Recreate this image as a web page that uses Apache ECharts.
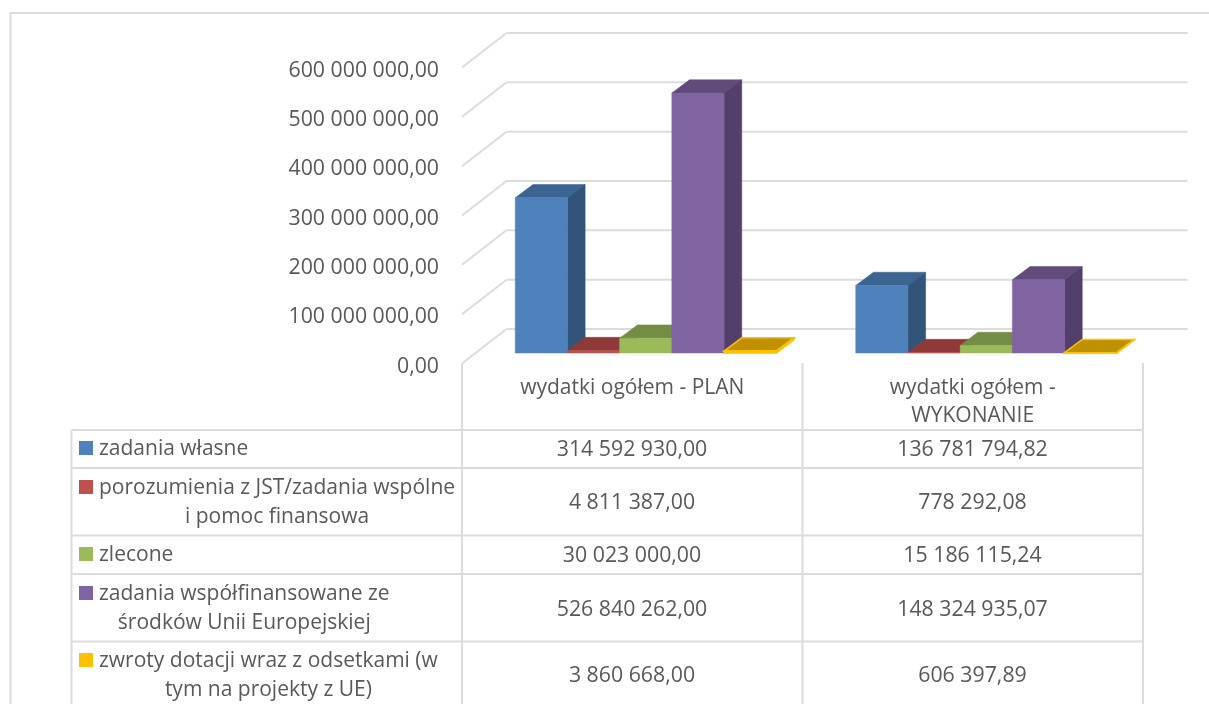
<!DOCTYPE html>
<html>
<head>
<meta charset="utf-8">
<title>wydatki ogółem</title>
<script src="https://cdn.jsdelivr.net/npm/echarts@6/dist/echarts.min.js"></script>
<style>
  html, body { margin: 0; padding: 0; background: #fff; }
  #chart { width: 1209px; height: 704px; }
</style>
</head>
<body>
<div id="chart"></div>
<script>
const categories = ['wydatki ogółem - PLAN', 'wydatki ogółem -\nWYKONANIE'];
const seriesNames = [
  'zadania własne',
  'porozumienia z JST/zadania wspólne\ni pomoc finansowa',
  'zlecone',
  'zadania współfinansowane ze\nśrodków Unii Europejskiej',
  'zwroty dotacji wraz z odsetkami (w\ntym na projekty z UE)'
];
const zadaniaWlasne = [314592930.00, 136781794.82];
const porozumienia = [4811387.00, 778292.08];
const zlecone = [30023000.00, 15186115.24];
const wspolfinansowane = [526840262.00, 148324935.07];
const zwroty = [3860668.00, 606397.89];
const yTicks = [0, 100000000, 200000000, 300000000, 400000000, 500000000, 600000000];

const seriesValues = [zadaniaWlasne, porozumienia, zlecone, wspolfinansowane, zwroty];
const faceColors = [
  { front: '#4F81BD', top: '#3C6491', side: '#325479' },
  { front: '#C0504D', top: '#8F3A38', side: '#7A302E' },
  { front: '#9BBB59', top: '#748C43', side: '#62773A' },
  { front: '#8064A2', top: '#604B7A', side: '#533F6B' },
  { front: '#FFC000', top: '#BF9000', side: '#A67D00' }
];

const FONT = '"Open Sans", sans-serif';
const FONT_SIZE = 21;
const NUM_SIZE = 21.3;
const TEXT = '#595959';
const LINE = '#DCDCDC';

// uklad "3D": przesuniecie sciany tylnej i slupkow wzgledem plaszczyzny osi
const WALL_DX = 44.5, WALL_DY = 34.5;
const BAR_DX = 13.5, BAR_DY = 10.5;
const DEPTH_DX = 17.7, DEPTH_DY = 13.3;
const BAR_SHARE = 0.1533;

function plNumber(v) {
  const parts = v.toFixed(2).split('.');
  return parts[0].replace(/\B(?=(\d{3})+$)/g, ' ') + ',' + parts[1];
}

function renderWall(params, api) {
  const rect = params.coordSys;
  const y = api.coord([0, api.value(1)])[1];
  const style = { stroke: LINE, lineWidth: 2, fill: null };
  return {
    type: 'group',
    children: [
      { type: 'line', shape: { x1: rect.x, y1: y, x2: rect.x + WALL_DX, y2: y - WALL_DY }, style },
      { type: 'line', shape: { x1: rect.x + WALL_DX, y1: y - WALL_DY, x2: rect.x + rect.width + WALL_DX, y2: y - WALL_DY }, style }
    ]
  };
}

function barRenderer(index) {
  return function (params, api) {
    const pt = api.coord([api.value(0), api.value(1)]);
    const base = api.coord([api.value(0), 0]);
    const w = api.size([1, 0])[0] * BAR_SHARE;
    const x0 = pt[0] + BAR_DX + (index - 2.5) * w;
    const x1 = x0 + w;
    const yb = base[1] - BAR_DY;
    const yt = pt[1] - BAR_DY;
    const c = faceColors[index];
    const poly = (points, fill) => {
      let stroke = fill, lineWidth = 0.5;
      if (index === 4) { stroke = '#FFC000'; lineWidth = 1.5; }
      return { type: 'polygon', shape: { points }, style: { fill, stroke, lineWidth } };
    };
    return {
      type: 'group',
      children: [
        poly([[x0, yt], [x0 + DEPTH_DX, yt - DEPTH_DY], [x1 + DEPTH_DX, yt - DEPTH_DY], [x1, yt]], c.top),
        poly([[x1, yt], [x1 + DEPTH_DX, yt - DEPTH_DY], [x1 + DEPTH_DX, yb - DEPTH_DY], [x1, yb]], c.side),
        poly([[x0, yt], [x1, yt], [x1, yb], [x0, yb]], c.front)
      ]
    };
  };
}

function textWidth(str) {
  const ctx = document.createElement('canvas').getContext('2d');
  ctx.font = FONT_SIZE + 'px "Open Sans"';
  return ctx.measureText(str).width;
}

function tableGraphics() {
  const els = [];
  const vline = (x, y1, y2) => els.push({ type: 'line', silent: true, shape: { x1: x, y1, x2: x, y2 }, style: { stroke: LINE, lineWidth: 2 } });
  const hline = (y, x1, x2) => els.push({ type: 'line', silent: true, shape: { x1, y1: y, x2, y2: y }, style: { stroke: LINE, lineWidth: 2 } });

  // ramka wykresu
  vline(10.5, 13, 704);
  hline(13, 10, 1209);

  // tabela danych
  const rowLines = [430, 468, 535.5, 574, 641.5];
  const rowMiddles = [450, 503, 556, 609.5, 676];
  const firstLines = [448, 487, 554, 593, 660];
  rowLines.forEach(y => hline(y, 71.5, 1143));
  vline(71.5, 430, 704);
  vline(462, 363, 704);
  vline(802.5, 363, 704);
  vline(1143, 363, 704);

  seriesNames.forEach((name, i) => {
    els.push({
      type: 'rect', silent: true,
      shape: { x: 79, y: firstLines[i] - 7, width: 14, height: 14 },
      style: { fill: faceColors[i].front }
    });
    const first = name.split('\n')[0];
    els.push({
      type: 'text', silent: true,
      x: 99 + textWidth(first) / 2, y: firstLines[i] - 13.5,
      style: { text: name, font: FONT_SIZE + 'px ' + FONT, fill: TEXT, align: 'center', verticalAlign: 'top', lineHeight: 29 }
    });
    seriesValues[i].forEach((v, j) => {
      els.push({
        type: 'text', silent: true,
        x: j === 0 ? 632 : 972.5, y: rowMiddles[i],
        style: { text: plNumber(v), font: NUM_SIZE + 'px ' + FONT, fill: TEXT, align: 'center', verticalAlign: 'middle' }
      });
    });
  });
  return els;
}

const chart = echarts.init(document.getElementById('chart'), null, { renderer: 'canvas' });

chart.setOption({
  animation: false,
  backgroundColor: '#fff',
  grid: { left: 462, right: 66, top: 67.5, height: 296, containLabel: false },
  xAxis: {
    type: 'category',
    data: categories,
    axisLine: { show: false },
    axisTick: { show: false },
    splitLine: { show: false },
    axisLabel: { fontFamily: FONT, fontSize: FONT_SIZE, color: TEXT, margin: 11, lineHeight: 28, interval: 0 }
  },
  yAxis: {
    type: 'value',
    min: 0,
    max: 600000000,
    interval: 100000000,
    axisLine: { show: false },
    axisTick: { show: false },
    splitLine: { show: false },
    // lineHeight + top: etykieta lekko ponizej linii, jak w oryginale
    axisLabel: { fontFamily: FONT, fontSize: NUM_SIZE, color: TEXT, margin: 23, verticalAlign: 'top', lineHeight: 6, formatter: plNumber }
  },
  graphic: tableGraphics(),
  series: [
    {
      type: 'custom',
      name: 'siatka',
      silent: true,
      clip: false,
      renderItem: renderWall,
      encode: { x: 0, y: 1 },
      data: yTicks.map(t => [0, t])
    }
  ].concat(seriesNames.map((name, i) => ({
    type: 'custom',
    name,
    clip: false,
    renderItem: barRenderer(i),
    encode: { x: 0, y: 1 },
    data: seriesValues[i].map((v, j) => [j, v])
  })))
});
</script>
</body>
</html>
